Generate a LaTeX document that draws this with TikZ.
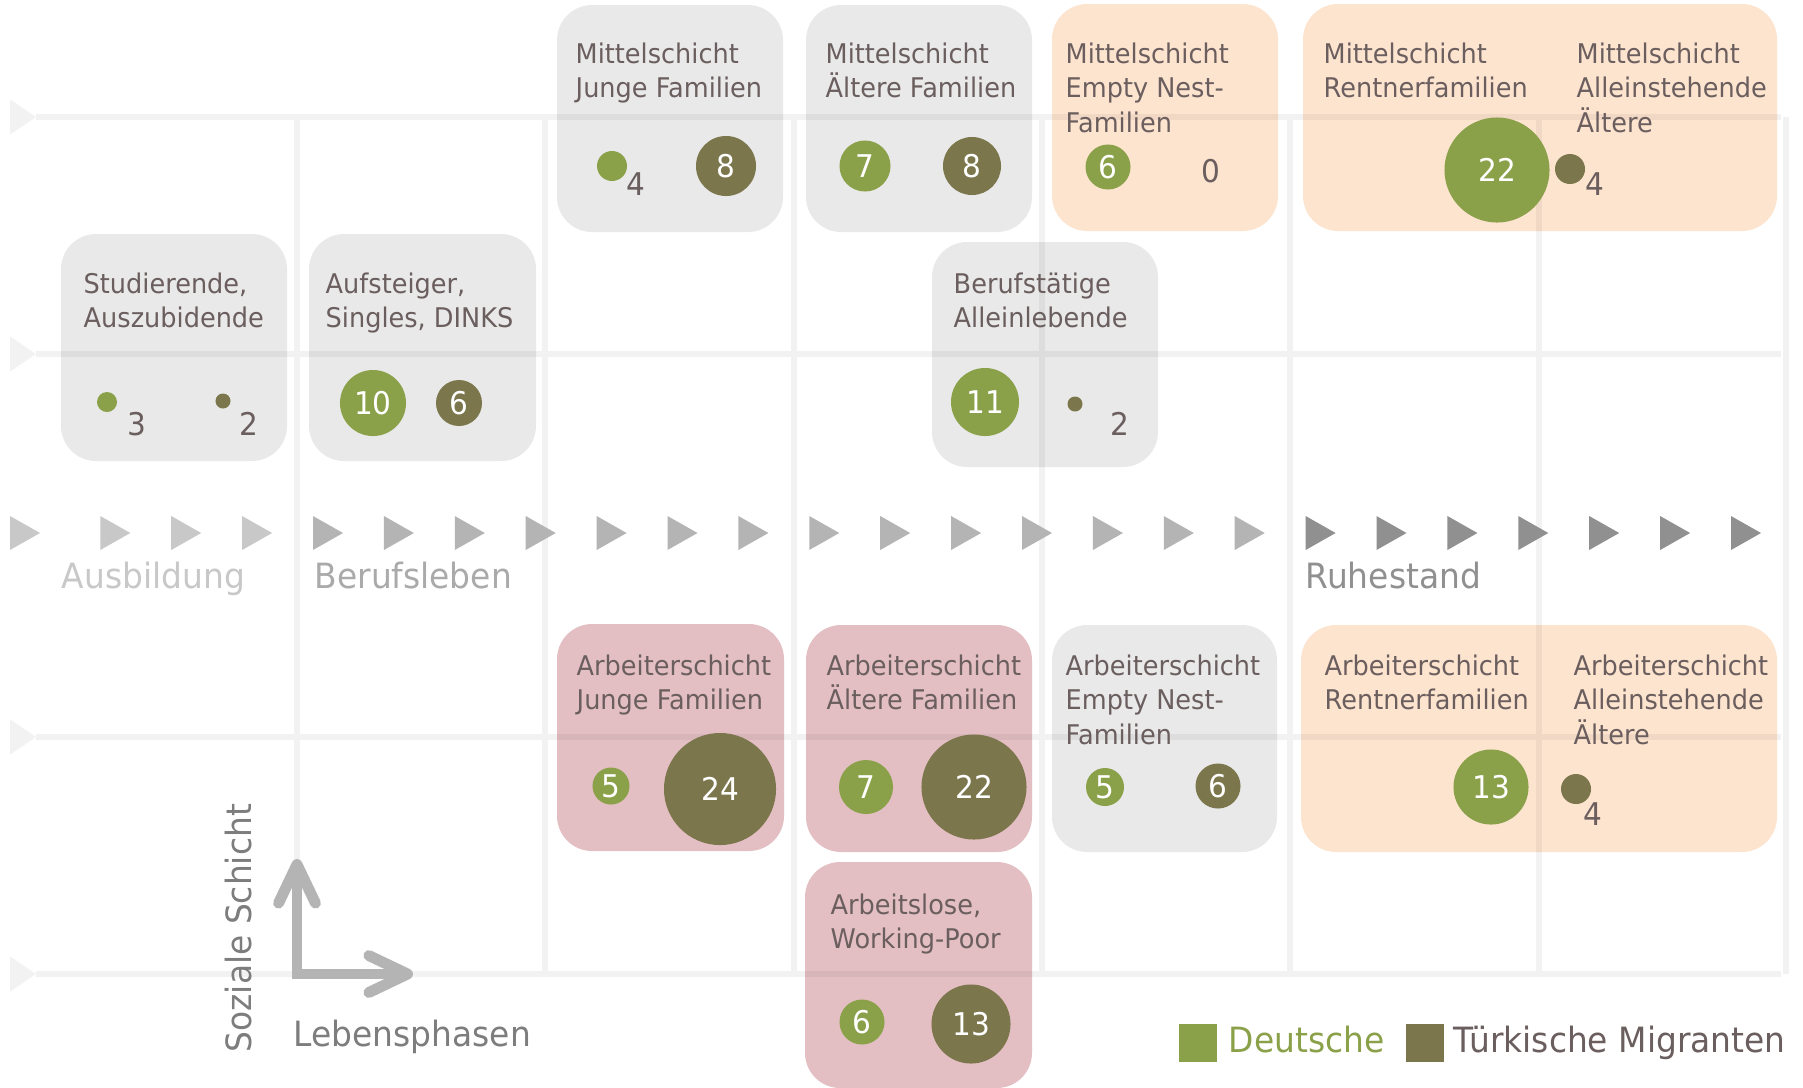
\documentclass[tikz,border=0pt]{standalone}
\usepackage{fontspec}
\setmainfont{DejaVu Sans}[FakeStretch=0.945]
\usetikzlibrary{arrows.meta,positioning}

\definecolor{gridgray}{HTML}{F2F2F2}
\definecolor{boxgray}{HTML}{E9E9E9}
\definecolor{boxpeach}{HTML}{FDE4CF}
\definecolor{boxrose}{HTML}{E3BFC3}
\definecolor{dtgreen}{HTML}{8AA149}
\definecolor{tkolive}{HTML}{7B764B}
\definecolor{txtgray}{HTML}{6B5E5E}
\definecolor{phaselight}{HTML}{C8C8C8}
\definecolor{phasemid}{HTML}{B4B4B4}
\definecolor{phasedark}{HTML}{909090}
\definecolor{berufgray}{HTML}{AAAAAA}
\definecolor{axisgray}{HTML}{7D7D7D}

\newcommand{\boxfont}{\fontsize{7.7}{9.8}\selectfont}
\newcommand{\numfont}{\fontsize{8.9}{10}\selectfont}
\newcommand{\bigfont}{\fontsize{9.9}{12}\selectfont}

\begin{document}
\begin{tikzpicture}[x=0.01cm, y=-0.01cm,
  every node/.style={inner sep=0pt},
  box/.style={rounded corners=10pt},
  graybox/.style={box, fill=boxgray},
  peachbox/.style={box, fill=boxpeach},
  rosebox/.style={box, fill=boxrose},
  lbl/.style={anchor=base west, align=left, text=txtgray, font=\boxfont},
  num/.style={anchor=base, text=txtgray, font=\numfont},
  de/.style={circle, fill=dtgreen, text=white, font=\numfont},
  tk/.style={circle, fill=tkolive, text=white, font=\numfont},
  phase/.style={anchor=base west, font=\bigfont},
  >={Straight Barb[length=11pt, width=10.5pt, round]},
  axis/.style={draw=phasemid, line width=3.1pt, <->}]

\fill[white] (0,0) rectangle (1803,1087);
\useasboundingbox (0,0) rectangle (1803,1087);

% boxes
\path[graybox] (61,234) rectangle (287,461);
\path[graybox] (309,234) rectangle (536,461);
\path[graybox] (557,5) rectangle (783,232);
\path[graybox] (806,5) rectangle (1032,232);
\path[peachbox] (1052,4) rectangle (1278,231);
\path[peachbox] (1303,4) rectangle (1777,231);
\path[graybox] (932,242) rectangle (1158,467);
\path[rosebox] (557,624) rectangle (784,851);
\path[rosebox] (806,625) rectangle (1032,852);
\path[graybox] (1052,625) rectangle (1277,852);
\path[peachbox] (1301,625) rectangle (1777,852);
\path[rosebox] (805,862) rectangle (1032,1088);

% grid
\draw[black, opacity=0.05, line width=1.7pt]
  \foreach \y in {117,354,737,974} {(36,\y) -- (1781,\y)}
  \foreach \x in {297,545,794,1042,1290,1539,1786} {(\x,117) -- (\x,974)};
\foreach \y in {117,354,737,974}
  \fill[gridgray] (10,\y-17.5) -- (36,\y) -- (10,\y+17.5) -- cycle;

% phases
\fill[phaselight] (10,516) -- ++(30,17) -- ++(-30,17) -- cycle;
\foreach \i in {0,...,23} {
  \pgfmathsetmacro{\px}{100.3+70.9*\i}
  \ifnum\i<3 \def\pc{phaselight}\else\ifnum\i<17 \def\pc{phasemid}\else\def\pc{phasedark}\fi\fi
  \fill[\pc] (\px,516) -- ++(30,17) -- ++(-30,17) -- cycle;
}
\node[phase, text=phaselight] (ausb) at (61,588) {Ausbildung};
\node[phase, text=berufgray] (beruf) at (314,588) {Berufsleben};
\node[phase, text=phasedark] (ruhe) at (1305,588) {Ruhestand};

% Mittelschicht (base = last line)
\node[lbl] (studTxt) at (83,327.5) {Studierende,\\Auszubidende};
\node[de, minimum size=0.20cm] (studDe) at (107,402) {};
\node[num] (studDeN) at (137,435) {3};
\node[tk, minimum size=0.15cm] (studTk) at (223,401) {};
\node[num] (studTkN) at (249,435) {2};

\node[lbl] (aufTxt) at (325,327.5) {Aufsteiger,\\Singles, DINKS};
\node[de, minimum size=0.66cm] (aufDe) at (373,403) {10};
\node[tk, minimum size=0.46cm] (aufTk) at (459,403) {6};

\node[lbl] (mjfTxt) at (575,97.5) {Mittelschicht\\Junge Familien};
\node[de, minimum size=0.30cm] (mjfDe) at (612,166) {};
\node[num] (mjfDeN) at (636,195) {4};
\node[tk, minimum size=0.60cm] (mjfTk) at (726,166) {8};

\node[lbl] (mafTxt) at (825,97.5) {Mittelschicht\\Ältere Familien};
\node[de, minimum size=0.51cm] (mafDe) at (865,166) {7};
\node[tk, minimum size=0.58cm] (mafTk) at (972,166) {8};

\node[lbl] (menTxt) at (1065,132) {Mittelschicht\\Empty Nest-\\Familien};
\node[de, minimum size=0.45cm] (menDe) at (1108,167) {6};
\node[num] (menTk) at (1211,182) {0};

\node[lbl] (mrfTxt) at (1323,97.5) {Mittelschicht\\Rentnerfamilien};
\node[lbl] (malTxt) at (1576,132) {Mittelschicht\\Alleinstehende\\Ältere};
\node[de, minimum size=1.05cm] (mrfDe) at (1497,170) {22};
\node[tk, minimum size=0.30cm] (mrfTk) at (1570,169) {};
\node[num] (mrfTkN) at (1595,195) {4};

\node[lbl] (balTxt) at (953,327.5) {Berufstätige\\Alleinlebende};
\node[de, minimum size=0.68cm] (balDe) at (985,402) {11};
\node[tk, minimum size=0.15cm] (balTk) at (1075,404) {};
\node[num] (balTkN) at (1120,435) {2};

% Arbeiterschicht
\node[lbl] (ajfTxt) at (576,709.5) {Arbeiterschicht\\Junge Familien};
\node[de, minimum size=0.37cm] (ajfDe) at (611,786) {5};
\node[tk, minimum size=1.12cm] (ajfTk) at (720,789) {24};

\node[lbl] (aafTxt) at (826,709.5) {Arbeiterschicht\\Ältere Familien};
\node[de, minimum size=0.54cm] (aafDe) at (866,787) {7};
\node[tk, minimum size=1.05cm] (aafTk) at (974,787) {22};

\node[lbl] (aenTxt) at (1065,744) {Arbeiterschicht\\Empty Nest-\\Familien};
\node[de, minimum size=0.38cm] (aenDe) at (1105,787) {5};
\node[tk, minimum size=0.45cm] (aenTk) at (1218,786) {6};

\node[lbl] (arfTxt) at (1324,709.5) {Arbeiterschicht\\Rentnerfamilien};
\node[lbl] (aalTxt) at (1573,744) {Arbeiterschicht\\Alleinstehende\\Ältere};
\node[de, minimum size=0.75cm] (arfDe) at (1491,787) {13};
\node[tk, minimum size=0.30cm] (arfTk) at (1576,789) {};
\node[num] (arfTkN) at (1593,825) {4};

\node[lbl] (alwTxt) at (830,948.5) {Arbeitslose,\\Working-Poor};
\node[de, minimum size=0.45cm] (alwDe) at (862,1022) {6};
\node[tk, minimum size=0.79cm] (alwTk) at (971,1024) {13};

% axes
\coordinate (sozTip) at (297,859);
\coordinate (axCorner) at (297,974);
\coordinate (lebTip) at (413,974);
\draw[axis] (sozTip) -- (axCorner) -- (lebTip);
\node[anchor=base west, rotate=90, text=axisgray, font=\bigfont] (soz) at (251,1053) {Soziale Schicht};
\node[anchor=base west, text=axisgray, font=\bigfont] (leb) at (293,1046) {Lebensphasen};

% legend
\node[fill=dtgreen, minimum size=0.38cm] (legDe) at (1198,1043) {};
\node[anchor=base west, text=dtgreen, font=\bigfont] (legDeTxt) at (1228,1052) {Deutsche};
\node[fill=tkolive, minimum size=0.38cm] (legTk) at (1425,1043) {};
\node[anchor=base west, text=txtgray, font=\bigfont] (legTkTxt) at (1453,1052) {Türkische Migranten};
\end{tikzpicture}
\end{document}
